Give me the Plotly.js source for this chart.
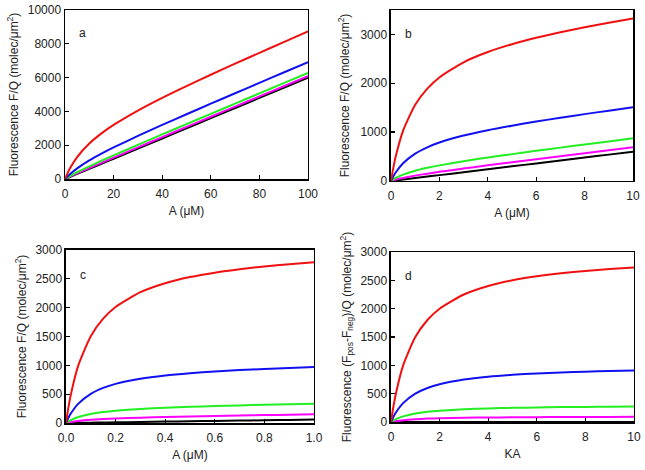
<!DOCTYPE html>
<html><head><meta charset="utf-8">
<script src="https://cdn.plot.ly/plotly-3.0.1.min.js"></script>
<style>html,body{margin:0;padding:0;background:#fff;}#chart{width:645px;height:470px;}</style>
</head><body><div id="chart"></div>
<script>
// Panel a: A (uM) 0-100
const xA = [0, 1, 2, 5, 10, 15, 20, 30, 40, 50, 60, 70, 80, 90, 100];
const aRed     = [0, 333, 620, 1300, 2100, 2700, 3200, 4050, 4800, 5500, 6171, 6825, 7467, 8100, 8727];
const aBlue    = [0, 151, 287, 633, 1100, 1500, 1867, 2550, 3200, 3833, 4457, 5075, 5689, 6300, 6909];
const aGreen   = [0, 87, 170, 400, 750, 1080, 1400, 2025, 2640, 3250, 3857, 4463, 5067, 5670, 6273];
const aMagenta = [0, 69, 137, 333, 650, 960, 1267, 1875, 2480, 3083, 3686, 4288, 4889, 5490, 6091];
const aBlack   = [0, 60, 120, 300, 600, 900, 1200, 1800, 2400, 3000, 3600, 4200, 4800, 5400, 6000];

// Panel b: A (uM) 0-10
const xB = [0, 0.1, 0.2, 0.5, 1, 1.5, 2, 3, 4, 5, 6, 7, 8, 9, 10];
const bRed     = [0, 279, 512, 1030, 1560, 1890, 2120, 2430, 2640, 2800, 2931, 3045, 3147, 3240, 3327];
const bBlue    = [0, 97, 179, 363, 560, 690, 787, 930, 1040, 1133, 1217, 1295, 1369, 1440, 1509];
const bGreen   = [0, 33, 62, 130, 210, 270, 320, 405, 480, 550, 617, 683, 747, 810, 873];
const bMagenta = [0, 15, 29, 63, 110, 150, 187, 255, 320, 383, 446, 508, 569, 630, 691];
const bBlack   = [0, 6, 12, 30, 60, 90, 120, 180, 240, 300, 360, 420, 480, 540, 600];

// Panel c: A (uM) 0-1
const xC = [0, 0.01, 0.02, 0.05, 0.1, 0.15, 0.2, 0.3, 0.4, 0.5, 0.6, 0.7, 0.8, 0.9, 1.0];
const cRed     = [0, 274, 501, 1003, 1506, 1809, 2012, 2268, 2424, 2530, 2607, 2667, 2715, 2754, 2787];
const cBlue    = [0, 92, 168, 336, 506, 609, 679, 768, 824, 863, 893, 917, 937, 954, 969];
const cGreen   = [0, 28, 51, 103, 156, 189, 212, 243, 264, 280, 293, 305, 315, 324, 333];
const cMagenta = [0, 10, 18, 36, 56, 69, 79, 93, 104, 113, 122, 130, 137, 144, 151];
const cBlack   = [0, 0.6, 1.2, 3, 6, 9, 12, 18, 24, 30, 36, 42, 48, 54, 60];

// Panel d: KA 0-10
const xD = [0, 0.1, 0.2, 0.5, 1, 1.5, 2, 3, 4, 5, 6, 7, 8, 9, 10];
const dRed     = [0, 273, 500, 1000, 1500, 1800, 2000, 2250, 2400, 2500, 2571, 2625, 2667, 2700, 2727];
const dBlue    = [0, 91, 167, 333, 500, 600, 667, 750, 800, 833, 857, 875, 889, 900, 909];
const dGreen   = [0, 27, 50, 100, 150, 180, 200, 225, 240, 250, 257, 263, 267, 270, 273];
const dMagenta = [0, 9, 17, 33, 50, 60, 67, 75, 80, 83, 86, 88, 89, 90, 91];
const dBlack   = [0, 0, 0, 0, 0, 0, 0, 0, 0, 0, 0, 0, 0, 0, 0];

const colors = {black:'#000000', magenta:'#ff00ff', green:'#22ee22', blue:'#1010f0', red:'#f01010'};

const traces = [];
function addPanel(x, sets, xa, ya) {
  sets.forEach(([y, c]) => {
    traces.push({x: x, y: y, xaxis: xa, yaxis: ya, type: 'scatter', mode: 'lines',
      line: {color: colors[c], width: 2, shape: 'spline', smoothing: 0.6}, hoverinfo: 'skip', showlegend: false});
  });
}
addPanel(xA, [[aBlack,'black'],[aMagenta,'magenta'],[aGreen,'green'],[aBlue,'blue'],[aRed,'red']], 'x', 'y');
addPanel(xB, [[bBlack,'black'],[bMagenta,'magenta'],[bGreen,'green'],[bBlue,'blue'],[bRed,'red']], 'x2', 'y2');
addPanel(xC, [[cBlack,'black'],[cMagenta,'magenta'],[cGreen,'green'],[cBlue,'blue'],[cRed,'red']], 'x3', 'y3');
addPanel(xD, [[dBlack,'black'],[dMagenta,'magenta'],[dGreen,'green'],[dBlue,'blue'],[dRed,'red']], 'x4', 'y4');

const FONT = 'Arial, "Liberation Sans", sans-serif';
function ax(extra) {
  return Object.assign({
    showgrid: false, zeroline: false, showline: true, linecolor: '#000', linewidth: 1.5,
    mirror: true, ticks: 'inside', ticklen: 4, tickwidth: 1.3, tickcolor: '#000',
    tickfont: {family: FONT, size: 12, color: '#222'}, fixedrange: true, tickformat: 'd'
  }, extra);
}
function xax(extra) { return ax(Object.assign({ticklabelstandoff: 3}, extra)); }
const yTitle = 'Fluorescence F/Q (molec/\u03bcm<sup>2</sup>)';
const layout = {
  width: 645, height: 470,
  margin: {l: 0, r: 0, t: 0, b: 0},
  paper_bgcolor: '#fff', plot_bgcolor: '#fff',
  font: {family: FONT, size: 12, color: '#222'},
  xaxis:  xax({domain: [0.1008, 0.4775], anchor: 'y', range: [0, 100], dtick: 20,
    title: {text: 'A (\u03bcM)', font: {size: 12}, standoff: 6}}),
  yaxis:  ax({domain: [0.6191, 0.9787], anchor: 'x', range: [0, 10000], dtick: 2000,
    title: {text: yTitle, font: {size: 12}, standoff: 6}}),
  xaxis2: xax({domain: [0.6062, 0.9814], anchor: 'y2', range: [0, 10], dtick: 2,
    title: {text: 'A (\u03bcM)', font: {size: 12}, standoff: 6}}),
  yaxis2: ax({domain: [0.6149, 0.9787], anchor: 'x2', range: [0, 3500], tickvals: [0, 1000, 2000, 3000],
    title: {text: yTitle, font: {size: 12}, standoff: 8}}),
  xaxis3: xax({domain: [0.1023, 0.4868], anchor: 'y3', range: [0, 1], dtick: 0.2, tickformat: '.1f',
    title: {text: 'A (\u03bcM)', font: {size: 12}, standoff: 6}}),
  yaxis3: ax({domain: [0.1, 0.4681], anchor: 'x3', range: [0, 3000], dtick: 500,
    title: {text: yTitle, font: {size: 12}, standoff: 6}}),
  xaxis4: xax({domain: [0.6062, 0.9829], anchor: 'y4', range: [0, 10], dtick: 2,
    title: {text: 'KA', font: {size: 12}, standoff: 6}}),
  yaxis4: ax({domain: [0.1021, 0.4638], anchor: 'x4', range: [0, 3000], dtick: 500,
    title: {text: 'Fluorescence (F<sub>pos</sub>-F<sub>neg</sub>)/Q (molec/\u03bcm<sup>2</sup>)', font: {size: 12}, standoff: 6}}),
  annotations: [
    {text: 'a', xref: 'x domain', yref: 'y domain', x: 0.05, y: 0.92, showarrow: false, font: {size: 12, color: '#222'}, xanchor: 'left'},
    {text: 'b', xref: 'x2 domain', yref: 'y2 domain', x: 0.05, y: 0.91, showarrow: false, font: {size: 12, color: '#222'}, xanchor: 'left'},
    {text: 'c', xref: 'x3 domain', yref: 'y3 domain', x: 0.05, y: 0.91, showarrow: false, font: {size: 12, color: '#222'}, xanchor: 'left'},
    {text: 'd', xref: 'x4 domain', yref: 'y4 domain', x: 0.05, y: 0.91, showarrow: false, font: {size: 12, color: '#222'}, xanchor: 'left'}
  ]
};
Plotly.newPlot('chart', traces, layout, {staticPlot: true, displayModeBar: false});
</script>
</body></html>
